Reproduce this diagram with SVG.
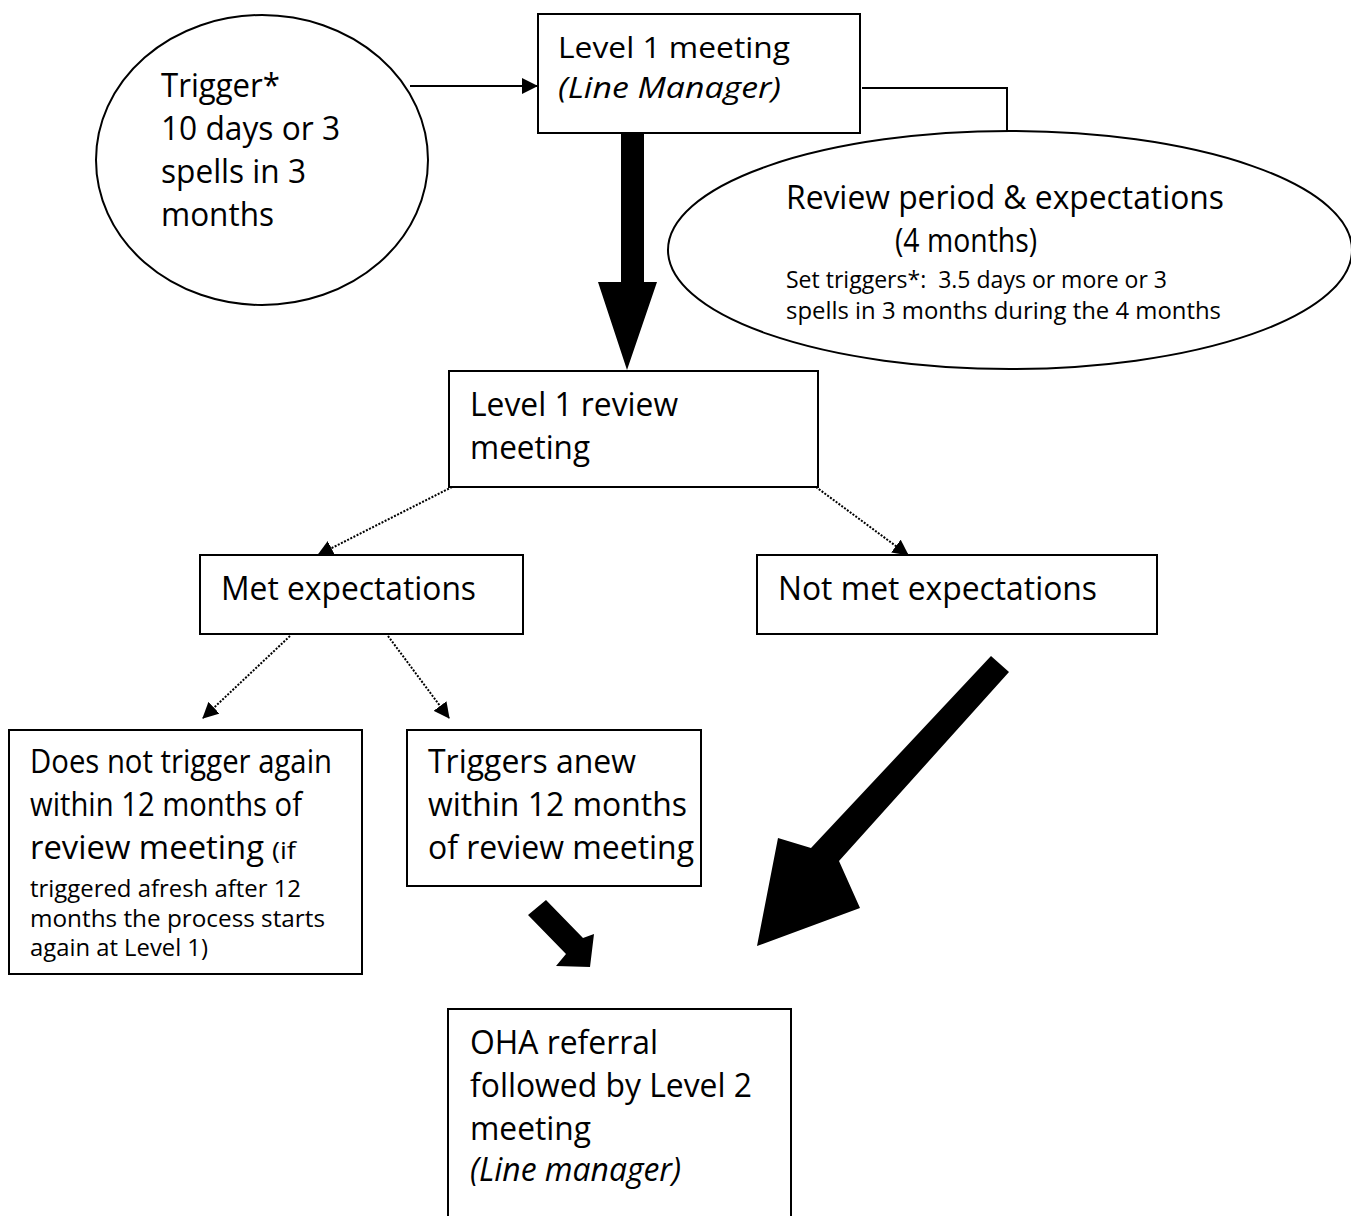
<svg xmlns="http://www.w3.org/2000/svg" width="1351" height="1216" viewBox="0 0 1351 1216">
<style>
  .box{fill:#fff;stroke:#000;stroke-width:2}
  .t{font-family:"Open Sans","Liberation Sans",sans-serif;font-size:32px;fill:#000;white-space:pre}
  .m{font-size:30px}
  .s{font-size:23px}
  .i{font-style:italic}
  .c{fill:none;stroke:#000;stroke-width:2}
  .d{fill:none;stroke:#000;stroke-width:2;stroke-dasharray:2 1.5}
  .blk{fill:#000;stroke:none}
</style>
<defs>
  <marker id="ah2" markerWidth="16" markerHeight="16" refX="15" refY="8" orient="auto" markerUnits="userSpaceOnUse" viewBox="0 0 16 16">
    <path d="M0,0 L16,8 L0,16 z" fill="#000"/>
  </marker>
</defs>

<g id="connectors">
  <line class="c" x1="410" y1="86" x2="537" y2="86" marker-end="url(#ah2)"/>
  <polyline class="c" points="862,88 1007,88 1007,131"/>
  <polygon class="blk" points="621,134 644,134 644,282 657,282 627,370 598,282 621,282"/>
  <line class="d" x1="452" y1="487" x2="318" y2="555" marker-end="url(#ah2)"/>
  <line class="d" x1="816" y1="487" x2="908" y2="555" marker-end="url(#ah2)"/>
  <line class="d" x1="290" y1="636" x2="203" y2="718" marker-end="url(#ah2)"/>
  <line class="d" x1="388" y1="636" x2="449" y2="718" marker-end="url(#ah2)"/>
  <polygon class="blk" points="528,915 546,900 583,938 594,934 590,967 556,966 566,954"/>
  <polygon class="blk" points="991,656 1009,672 839,861 860,908 757,946 778,838 811,848"/>
</g>

<g id="trigger">
  <ellipse class="box" cx="262" cy="160" rx="166" ry="145"/>
  <text class="t" x="161" y="97" textLength="119" lengthAdjust="spacingAndGlyphs">Trigger*</text>
  <text class="t" x="161" y="140" textLength="179" lengthAdjust="spacingAndGlyphs">10 days or 3</text>
  <text class="t" x="161" y="183" textLength="145" lengthAdjust="spacingAndGlyphs">spells in 3</text>
  <text class="t" x="161" y="226" textLength="113" lengthAdjust="spacingAndGlyphs">months</text>
</g>

<g id="level1">
  <rect class="box" x="538" y="14" width="322" height="119"/>
  <text class="t m" x="558" y="58" textLength="232" lengthAdjust="spacingAndGlyphs">Level 1 meeting</text>
  <text class="t m i" x="558" y="98" textLength="223" lengthAdjust="spacingAndGlyphs">(Line Manager)</text>
</g>

<g id="review-period">
  <ellipse class="box" cx="1010" cy="250" rx="342" ry="119"/>
  <text class="t" x="786" y="209" textLength="438" lengthAdjust="spacingAndGlyphs">Review period &amp; expectations</text>
  <text class="t" x="895" y="252" textLength="142" lengthAdjust="spacingAndGlyphs">(4 months)</text>
  <text class="t s" x="786" y="288" textLength="381" lengthAdjust="spacingAndGlyphs">Set triggers*:  3.5 days or more or 3</text>
  <text class="t s" x="786" y="319" textLength="435" lengthAdjust="spacingAndGlyphs">spells in 3 months during the 4 months</text>
</g>

<g id="review-meeting">
  <rect class="box" x="449" y="371" width="369" height="116"/>
  <text class="t" x="470" y="416" textLength="208" lengthAdjust="spacingAndGlyphs">Level 1 review</text>
  <text class="t" x="470" y="459" textLength="120" lengthAdjust="spacingAndGlyphs">meeting</text>
</g>

<g id="met">
  <rect class="box" x="200" y="555" width="323" height="79"/>
  <text class="t" x="221" y="600" textLength="255" lengthAdjust="spacingAndGlyphs">Met expectations</text>
</g>

<g id="not-met">
  <rect class="box" x="757" y="555" width="400" height="79"/>
  <text class="t" x="778" y="600" textLength="319" lengthAdjust="spacingAndGlyphs">Not met expectations</text>
</g>

<g id="no-trigger">
  <rect class="box" x="9" y="730" width="353" height="244"/>
  <text class="t" x="30" y="773" textLength="302" lengthAdjust="spacingAndGlyphs">Does not trigger again</text>
  <text class="t" x="30" y="816" textLength="272" lengthAdjust="spacingAndGlyphs">within 12 months of</text>
  <text class="t" x="30" y="859" textLength="234" lengthAdjust="spacingAndGlyphs">review meeting</text>
  <text class="t s" x="272" y="859" textLength="24" lengthAdjust="spacingAndGlyphs">(if</text>
  <text class="t s" x="30" y="897" textLength="271" lengthAdjust="spacingAndGlyphs">triggered afresh after 12</text>
  <text class="t s" x="30" y="927" textLength="295" lengthAdjust="spacingAndGlyphs">months the process starts</text>
  <text class="t s" x="30" y="956" textLength="178" lengthAdjust="spacingAndGlyphs">again at Level 1)</text>
</g>

<g id="triggers-anew">
  <rect class="box" x="407" y="730" width="294" height="156"/>
  <text class="t" x="428" y="773" textLength="208" lengthAdjust="spacingAndGlyphs">Triggers anew</text>
  <text class="t" x="428" y="816" textLength="259" lengthAdjust="spacingAndGlyphs">within 12 months</text>
  <text class="t" x="428" y="859" textLength="266" lengthAdjust="spacingAndGlyphs">of review meeting</text>
</g>

<g id="oha">
  <rect class="box" x="448" y="1009" width="343" height="210"/>
  <text class="t" x="470" y="1054" textLength="188" lengthAdjust="spacingAndGlyphs">OHA referral</text>
  <text class="t" x="470" y="1097" textLength="282" lengthAdjust="spacingAndGlyphs">followed by Level 2</text>
  <text class="t" x="470" y="1140" textLength="121" lengthAdjust="spacingAndGlyphs">meeting</text>
  <text class="t i" x="470" y="1181" textLength="211" lengthAdjust="spacingAndGlyphs">(Line manager)</text>
</g>
</svg>
